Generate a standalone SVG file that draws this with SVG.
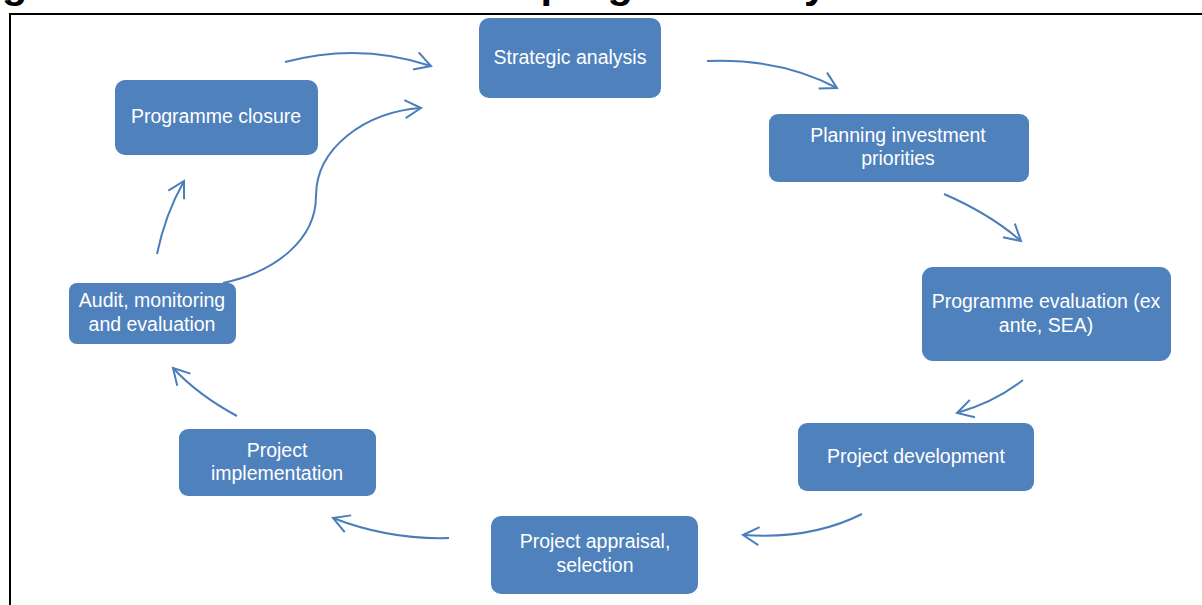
<svg xmlns="http://www.w3.org/2000/svg" width="1202" height="605" viewBox="0 0 1202 605">
<defs>
<style>
.node{fill:#4F81BD;}
.lbl{fill:#ffffff;font-family:"Liberation Sans",Arial,sans-serif;font-size:19.5px;text-anchor:middle;}
.conn{fill:none;stroke:#4A7EBB;stroke-width:2;marker-end:url(#arr);}
.cap{fill:#000;font-family:"Liberation Sans",Arial,sans-serif;font-weight:bold;font-size:40px;}
</style>
<marker id="arr" markerUnits="userSpaceOnUse" markerWidth="30" markerHeight="30" viewBox="-20 -15 30 30" refX="0" refY="0" orient="auto">
<path d="M-16,-9 L0,0 L-16,9" fill="none" stroke="#4A7EBB" stroke-width="2" stroke-linejoin="miter"/>
</marker>
</defs>
<rect width="1202" height="605" fill="#ffffff"/>
<text class="cap" x="-35" y="-2" textLength="920" lengthAdjust="spacingAndGlyphs">Figure 1 The structure of the programme cycle</text>
<path d="M10,605 L10,14 L1202,14" fill="none" stroke="#000" stroke-width="2"/>

<g id="connectors">
<path class="conn" d="M285,62 Q360,42 431,66"/>
<path class="conn" d="M707,61 Q780,58 837,88"/>
<path class="conn" d="M944,194 Q990,214 1021,241"/>
<path class="conn" d="M1023,380 Q995,402 957,413"/>
<path class="conn" d="M862,514 Q810,540 743,535"/>
<path class="conn" d="M449,538 Q390,540 333,518"/>
<path class="conn" d="M237,416 Q198,395 173,368"/>
<path class="conn" d="M157,254 Q165,215 184,181"/>
<path class="conn" d="M223,283 C275,272 316,240 316,196 C316,148 365,112 421,108"/>
</g>

<g id="strategic-analysis">
<rect class="node" x="479" y="18" width="182" height="80" rx="10"/>
<text class="lbl" x="570" y="64">Strategic analysis</text>
</g>
<g id="planning-investment-priorities">
<rect class="node" x="769" y="114" width="260" height="68" rx="9"/>
<text class="lbl" x="898" y="142">Planning investment</text>
<text class="lbl" x="898" y="165">priorities</text>
</g>
<g id="programme-evaluation">
<rect class="node" x="922" y="267" width="249" height="94" rx="11"/>
<text class="lbl" x="1046" y="308">Programme evaluation (ex</text>
<text class="lbl" x="1046" y="332">ante, SEA)</text>
</g>
<g id="project-development">
<rect class="node" x="798" y="423" width="236" height="68" rx="9"/>
<text class="lbl" x="916" y="463">Project development</text>
</g>
<g id="project-appraisal">
<rect class="node" x="491" y="516" width="207" height="78" rx="10"/>
<text class="lbl" x="595" y="548">Project appraisal,</text>
<text class="lbl" x="595" y="572">selection</text>
</g>
<g id="project-implementation">
<rect class="node" x="179" y="429" width="197" height="67" rx="9"/>
<text class="lbl" x="277" y="457">Project</text>
<text class="lbl" x="277" y="480">implementation</text>
</g>
<g id="audit-monitoring-evaluation">
<rect class="node" x="69" y="283" width="167" height="61" rx="8"/>
<text class="lbl" x="152" y="307">Audit, monitoring</text>
<text class="lbl" x="152" y="331">and evaluation</text>
</g>
<g id="programme-closure">
<rect class="node" x="115" y="80" width="203" height="75" rx="10"/>
<text class="lbl" x="216" y="123">Programme closure</text>
</g>
</svg>
